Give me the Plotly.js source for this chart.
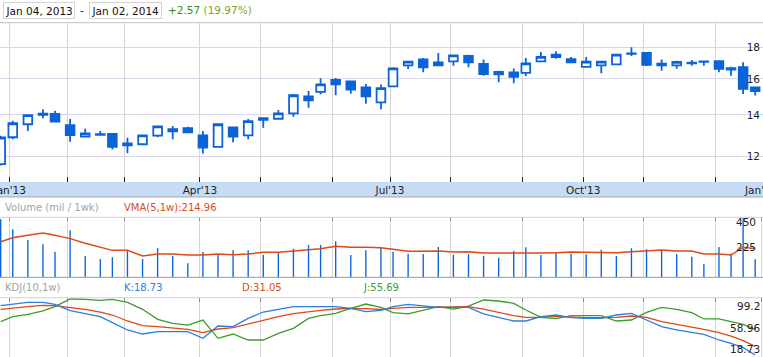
<!DOCTYPE html>
<html><head><meta charset="utf-8">
<script src="https://cdn.plot.ly/plotly-3.0.1.min.js"></script>
<style>html,body{margin:0;padding:0;background:#fff;overflow:hidden}#chart{width:763px;height:357px}</style>
</head><body><div id="chart"></div>
<script>
// ---- weekly data (week-ending dates) ----
const weekDates = ["2012-12-28","2013-01-04","2013-01-11","2013-01-18","2013-01-25","2013-02-01","2013-02-08","2013-02-15","2013-02-22","2013-03-01","2013-03-08","2013-03-15","2013-03-22","2013-03-29","2013-04-05","2013-04-12","2013-04-19","2013-04-26","2013-05-03","2013-05-10","2013-05-17","2013-05-24","2013-05-31","2013-06-07","2013-06-14","2013-06-21","2013-06-28","2013-07-05","2013-07-12","2013-07-19","2013-07-26","2013-08-02","2013-08-09","2013-08-16","2013-08-23","2013-08-30","2013-09-06","2013-09-13","2013-09-20","2013-09-27","2013-10-04","2013-10-11","2013-10-18","2013-10-25","2013-11-01","2013-11-08","2013-11-15","2013-11-22","2013-11-29","2013-12-06","2013-12-13","2013-12-20","2013-12-27"];
const openP  = [11.66,12.88,13.52,14.00,14.05,13.48,12.91,13.03,13.04,12.50,12.55,12.96,13.17,13.33,12.97,12.43,13.36,12.97,13.74,13.80,14.08,15.00,15.25,15.94,15.86,15.51,14.67,15.57,16.83,17.20,16.83,17.08,17.43,16.92,16.27,16.40,16.37,17.08,17.52,17.22,16.74,16.83,16.89,17.56,17.63,16.94,16.83,16.96,17.05,17.09,16.66,16.72,15.50];
const highP  = [12.95,13.70,14.03,14.29,14.22,13.79,13.30,13.18,13.08,12.86,12.98,13.45,13.43,13.39,13.18,13.56,13.40,13.78,13.85,14.26,15.13,15.30,16.04,16.06,15.88,15.70,15.68,16.72,17.10,17.29,17.63,17.50,17.51,17.20,16.50,16.64,17.30,17.68,17.74,17.36,17.36,17.10,17.56,18.00,17.66,17.20,17.12,17.17,17.12,17.15,16.75,17.02,15.55];
const lowP   = [11.60,12.78,13.19,13.83,13.62,12.67,12.89,12.95,12.31,12.14,12.54,12.88,12.79,13.10,12.13,12.40,12.64,12.78,13.35,13.78,13.90,14.38,15.12,15.06,15.15,14.59,14.30,15.55,16.60,16.40,16.80,16.81,16.71,16.19,15.81,15.74,16.17,17.05,17.25,16.98,16.70,16.34,16.87,17.43,16.79,16.50,16.62,16.81,16.81,16.40,16.19,15.13,15.04];
const closeP = [12.87,13.57,13.99,14.06,13.65,12.99,13.07,13.00,12.43,12.59,12.97,13.41,13.27,13.12,12.40,13.52,12.91,13.68,13.83,14.08,15.06,14.78,15.68,15.68,15.38,15.00,15.46,16.64,17.07,16.71,17.01,17.47,17.02,16.29,16.42,16.13,16.95,17.37,17.36,17.02,17.07,17.07,17.52,17.60,16.87,16.83,17.05,17.00,17.08,16.62,16.56,15.42,15.30];
const volumeMil = [435,360,280,247,192,352,160,137,150,200,137,217,160,105,190,175,202,202,167,190,215,242,242,270,167,202,225,192,177,175,227,170,172,162,147,197,225,167,180,177,172,207,160,217,210,205,175,155,100,227,178,445,135];
const vma5 = [267,297,315,332,315,290,255,225,202,202,160,175,175,167,167,175,170,175,187,187,197,205,215,232,225,225,222,210,195,195,197,190,192,182,182,177,182,182,185,190,187,185,185,192,200,205,197,197,175,175,167,225,214.96];
const kLine = [89.6,92.0,94.4,94.4,91.5,82.4,78.6,73.8,65.2,54.7,48.9,52.3,52.3,52.3,42.7,60.4,59.5,71.4,80.5,84.4,88.2,88.2,88.2,88.2,85.8,81.0,82.9,88.2,91.5,89.6,87.2,87.2,87.2,77.7,72.9,67.6,67.6,73.8,76.2,72.4,71.4,71.4,76.2,78.6,69.0,59.5,54.7,51.3,48.4,40.3,35.5,29.3,18.73];
const dLine = [84.3,86.3,88.2,90.1,89.6,86.8,84.3,80.5,76.2,67.6,60.9,59.4,57.5,55.6,50.8,56.1,58.0,63.3,69.5,73.8,78.1,81.0,82.9,84.8,85.8,85.3,84.1,85.8,87.2,87.2,87.7,87.7,88.2,84.8,80.0,75.3,72.9,72.9,74.3,73.3,72.4,72.4,72.9,74.8,72.9,66.6,62.8,58.5,55.6,50.8,46.0,39.3,31.05];
const jLine = [66.6,73.8,77.2,82.0,88.2,99.2,98.7,97.3,98.7,94.4,84.4,70.0,64.2,61.8,69.0,42.7,48.9,40.3,40.3,49.9,57.0,71.4,75.3,78.6,85.8,92.0,87.2,79.6,77.7,83.4,88.2,84.8,89.1,97.8,96.3,93.0,83.4,72.9,71.0,75.3,75.3,75.3,67.6,69.0,80.0,87.2,84.4,79.6,70.5,70.5,66.6,62.8,55.69];

// ---- axis labels / calendar ----
const monthTickDates = ["2013-01-03","2013-01-31","2013-02-28","2013-04-04","2013-05-02","2013-06-06","2013-07-03","2013-08-01","2013-09-05","2013-10-03","2013-10-31","2013-12-05","2013-12-31"];
const monthTickText = ["Jan'13","","","Apr'13","","","Jul'13","","","Oct'13","","","Jan'14"];
const priceTicks = [12,14,16,18];
const marketClosed = ["2013-01-01","2013-01-21","2013-02-18","2013-05-27","2013-07-04","2013-09-02","2013-11-28","2013-12-25","2014-01-01","2013-12-11","2013-12-18"];

// session (trading-day) axis: position = number of sessions since first week date
const closedSet = new Set(marketClosed);
function sessionIndex(iso){
  const base = Date.parse(weekDates[0]+"T00:00:00Z");
  const t = Date.parse(iso+"T00:00:00Z");
  let n = 0;
  for(let ms = base; ms < t; ms += 86400000){
    const d = new Date(ms), wd = d.getUTCDay(), s = d.toISOString().slice(0,10);
    if(wd!==0 && wd!==6 && !closedSet.has(s)) n++;
  }
  return n;
}
const xs = weekDates.map(sessionIndex);
const tickPos = monthTickDates.map(sessionIndex);
const lastTick = tickPos.length - 1;
const axisTickText = monthTickText.map((t,i)=> i===lastTick ? '' : t);

const W = 763, H = 357;
const px = x => x / W, py = y => 1 - y / H;
const FONT = 'DejaVu Sans';
const BLUE = '#0b63d8', RED = '#db4a17', GREEN = '#3c9c2c', KBLUE = '#2b7de0';

const traces = [
  {type:'candlestick', x:xs, open:openP, high:highP, low:lowP, close:closeP, xaxis:'x', yaxis:'y',
   increasing:{line:{color:BLUE,width:1.8}, fillcolor:'#ffffff'},
   decreasing:{line:{color:BLUE,width:1.8}, fillcolor:BLUE}, whiskerwidth:0, hoverinfo:'skip'},
  {type:'bar', x:xs, y:volumeMil, width:0.45, xaxis:'x2', yaxis:'y2', marker:{color:BLUE, line:{width:0}}, hoverinfo:'skip'},
  {type:'scatter', mode:'lines', x:xs, y:vma5, xaxis:'x2', yaxis:'y2', line:{color:RED,width:1.5}, hoverinfo:'skip'},
  {type:'scatter', mode:'lines', x:xs, y:jLine, xaxis:'x3', yaxis:'y3', line:{color:GREEN,width:1.3}, hoverinfo:'skip'},
  {type:'scatter', mode:'lines', x:xs, y:dLine, xaxis:'x3', yaxis:'y3', line:{color:RED,width:1.3}, hoverinfo:'skip'},
  {type:'scatter', mode:'lines', x:xs, y:kLine, xaxis:'x3', yaxis:'y3', line:{color:KBLUE,width:1.3}, hoverinfo:'skip'}
];

const xRange = [-0.232, 252.59];
const gridX = '#d6d6d6';
const layout = {
  width:W, height:H, margin:{l:0,r:0,t:0,b:0}, showlegend:false,
  paper_bgcolor:'#fff', plot_bgcolor:'#fff', hovermode:false,
  boxgap:0.28, boxgroupgap:0,
  font:{family:FONT, size:10.5, color:'#222'},
  xaxis:{domain:[0,1], anchor:'y', range:xRange, tickmode:'array', tickvals:tickPos, ticktext:axisTickText,
    ticks:'inside', ticklen:5, tickwidth:1, tickcolor:'#222', showgrid:true, gridcolor:gridX, gridwidth:1,
    ticklabeloverflow:'allow',
    zeroline:false, showline:false, tickfont:{family:FONT,size:10.5,color:'#222'}, rangeslider:{visible:false}, fixedrange:true},
  xaxis2:{domain:[0,1], anchor:'y2', matches:'x', side:'top', tickmode:'array', tickvals:tickPos, showticklabels:false,
    ticks:'inside', ticklen:4, tickcolor:'#8a8a8a', showgrid:true, gridcolor:gridX, zeroline:false, showline:false},
  xaxis3:{domain:[0,1], anchor:'y3', matches:'x', side:'top', tickmode:'array', tickvals:tickPos, showticklabels:false,
    ticks:'inside', ticklen:4, tickcolor:'#8a8a8a', showgrid:true, gridcolor:gridX, zeroline:false, showline:false},
  yaxis:{domain:[py(182), py(22.7)], anchor:'x', type:'log', range:[1.03766,1.29501], side:'right',
    tickmode:'array', tickvals:priceTicks, ticktext:priceTicks.map(String), ticklabelposition:'inside', ticklabelshift:4.5,
    ticks:'', showgrid:true, gridcolor:'#d8d8e8', zeroline:false, showline:false, tickfont:{family:FONT,size:10.5,color:'#222'}},
  yaxis2:{domain:[py(277.3), py(217.3)], anchor:'x2', range:[0,450], showgrid:false, showticklabels:false, zeroline:false, ticks:''},
  yaxis3:{domain:[0, py(297.7)], anchor:'x3', range:[15.86,101.07], showgrid:false, showticklabels:false, zeroline:false, ticks:''},
  shapes:[
    {type:'rect', xref:'paper', yref:'paper', x0:0, x1:1, y0:py(197), y1:py(182), fillcolor:'#c6dcf4', line:{width:0}, layer:'below'},
    {type:'line', xref:'paper', yref:'paper', x0:0, x1:1, y0:py(197), y1:py(197), line:{color:'#a9a9a9', width:1}},
    {type:'line', xref:'paper', yref:'paper', x0:0, x1:1, y0:py(22.7), y1:py(22.7), line:{color:'#c2c2c2', width:1}},
    {type:'line', xref:'paper', yref:'paper', x0:0, x1:1, y0:py(217.3), y1:py(217.3), line:{color:'#d0d0e4', width:1}},
    {type:'line', xref:'paper', yref:'paper', x0:0, x1:1, y0:py(277.3), y1:py(277.3), line:{color:'#9a9a9a', width:1}},
    {type:'line', xref:'paper', yref:'paper', x0:0, x1:1, y0:py(297.7), y1:py(297.7), line:{color:'#d0d0e4', width:1}}
  ],
  annotations:[
    {xref:'x', yref:'paper', x:tickPos[lastTick], y:py(189.5), xanchor:'center', yanchor:'middle', text:monthTickText[lastTick], showarrow:false,
     font:{family:FONT,size:10.5,color:'#222'}},
    {xref:'paper', yref:'paper', x:px(3.3), y:py(10.4), xanchor:'left', yanchor:'middle', text:'Jan 04, 2013', showarrow:false,
     bordercolor:'#d2d2d2', borderwidth:1, borderpad:1.5, font:{family:FONT,size:10.5,color:'#111'}},
    {xref:'paper', yref:'paper', x:px(82), y:py(10.4), xanchor:'center', yanchor:'middle', text:'-', showarrow:false, font:{family:FONT,size:10.5,color:'#111'}},
    {xref:'paper', yref:'paper', x:px(89.3), y:py(10.4), xanchor:'left', yanchor:'middle', text:'Jan 02, 2014', showarrow:false,
     bordercolor:'#d2d2d2', borderwidth:1, borderpad:1.5, font:{family:FONT,size:10.5,color:'#111'}},
    {xref:'paper', yref:'paper', x:px(166), y:py(10.4), xanchor:'left', yanchor:'middle', showarrow:false,
     text:'<span style="color:#2a8f2a">+2.57</span> <span style="color:#7fa51f">(19.97%)</span>', font:{family:FONT,size:10.5}},
    {xref:'paper', yref:'paper', x:px(3), y:py(207.3), xanchor:'left', yanchor:'middle', text:'Volume (mil / 1wk)', showarrow:false, font:{family:FONT,size:10,color:'#a3a3a3'}},
    {xref:'paper', yref:'paper', x:px(121.7), y:py(207.3), xanchor:'left', yanchor:'middle', text:'VMA(5,1w):214.96', showarrow:false, font:{family:FONT,size:10,color:RED}},
    {xref:'paper', yref:'paper', x:px(3), y:py(287.7), xanchor:'left', yanchor:'middle', text:'KDJ(10,1w)', showarrow:false, font:{family:FONT,size:10,color:'#a3a3a3'}},
    {xref:'paper', yref:'paper', x:px(121.7), y:py(287.7), xanchor:'left', yanchor:'middle', text:'K:18.73', showarrow:false, font:{family:FONT,size:10,color:KBLUE}},
    {xref:'paper', yref:'paper', x:px(239.7), y:py(287.7), xanchor:'left', yanchor:'middle', text:'D:31.05', showarrow:false, font:{family:FONT,size:10,color:RED}},
    {xref:'paper', yref:'paper', x:px(360.7), y:py(287.7), xanchor:'left', yanchor:'middle', text:'J:55.69', showarrow:false, font:{family:FONT,size:10,color:GREEN}},
    {xref:'paper', yref:'y2', x:1, y:450, xanchor:'right', yanchor:'middle', yshift:-4.4, xshift:-5, text:'450', showarrow:false, font:{family:FONT,size:10.5,color:'#222'}},
    {xref:'paper', yref:'y2', x:1, y:225, xanchor:'right', yanchor:'middle', xshift:-5, text:'225', showarrow:false, font:{family:FONT,size:10.5,color:'#222'}},
    {xref:'paper', yref:'y3', x:1, y:99.2, xanchor:'right', yanchor:'middle', yshift:-7.3, xshift:-1, text:'99.2', showarrow:false, font:{family:FONT,size:10.5,color:'#222'}},
    {xref:'paper', yref:'y3', x:1, y:58.96, xanchor:'right', yanchor:'middle', yshift:-0.7, xshift:-1, text:'58.96', showarrow:false, font:{family:FONT,size:10.5,color:'#222'}},
    {xref:'paper', yref:'y3', x:1, y:18.73, xanchor:'right', yanchor:'middle', yshift:6, xshift:-1, text:'18.73', showarrow:false, font:{family:FONT,size:10.5,color:'#222'}}
  ]
};
Plotly.newPlot('chart', traces, layout, {staticPlot:true, displayModeBar:false});
</script></body></html>
